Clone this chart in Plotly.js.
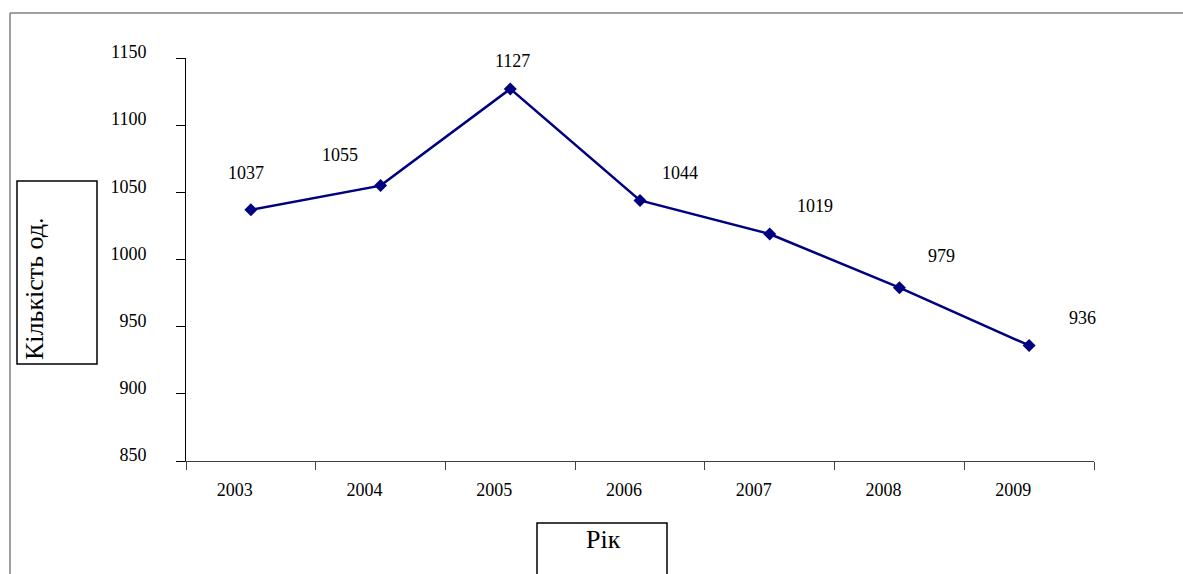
<!DOCTYPE html>
<html>
<head>
<meta charset="utf-8">
<script src="https://cdn.plot.ly/plotly-3.0.1.min.js"></script>
<style>
html,body{margin:0;padding:0;background:#fff;}
#chart{width:1183px;height:574px;}
</style>
</head>
<body>
<div id="chart"></div>
<script>
// ---- data ----
const years = ["2003", "2004", "2005", "2006", "2007", "2008", "2009"];
const counts = [1037, 1055, 1127, 1044, 1019, 979, 936];
const yTickValues = [850, 900, 950, 1000, 1050, 1100, 1150];
const yAxisTitle = "Кількість од.";
const xAxisTitle = "Рік";

// ---- label placement (style, px offsets from each point) ----
const labelDx = [-5, -41, 2, 40, 45, 42, 53];
const labelDy = [37, 31, 28, 27, 28, 32, 27];

// ---- layout geometry ----
const W = 1183, H = 574;
const M = {l: 186, r: 89, t: 58, b: 113};
const PW = W - M.l - M.r, PH = H - M.t - M.b;
const px = v => (v - M.l) / PW;
const py = v => (H - M.b - v) / PH;

const font = "Liberation Serif, Times New Roman, serif";

const trace = {
  type: "scatter",
  mode: "lines+markers",
  x: years,
  y: counts,
  line: {color: "#000080", width: 2.5},
  marker: {symbol: "diamond", size: 10, color: "#000080"},
  cliponaxis: false,
  hoverinfo: "x+y"
};

// category axis: annotations placed by category index
const annotations = years.map((yr, i) => ({
  x: i, y: counts[i], xref: "x", yref: "y",
  text: String(counts[i]), showarrow: false,
  xanchor: "center", yanchor: "middle",
  xshift: labelDx[i], yshift: labelDy[i],
  font: {family: font, size: 18, color: "#000"}
}));

annotations.push({
  xref: "paper", yref: "paper", x: px(34), y: py(289),
  xanchor: "center", yanchor: "middle",
  text: yAxisTitle, textangle: -90, showarrow: false,
  font: {family: font, size: 26, color: "#000"}
});
annotations.push({
  xref: "paper", yref: "paper", x: px(603), y: py(539),
  xanchor: "center", yanchor: "middle",
  text: xAxisTitle, showarrow: false,
  font: {family: font, size: 26, color: "#000"}
});

const shapes = [
  // outer frame (top and left edges visible)
  {type: "line", xref: "paper", yref: "paper", x0: px(10), x1: px(W + 5), y0: py(13), y1: py(13),
   line: {color: "#808080", width: 1.5}},
  {type: "line", xref: "paper", yref: "paper", x0: px(10), x1: px(10), y0: py(13), y1: py(H + 5),
   line: {color: "#808080", width: 1.5}},
  // y title box
  {type: "rect", xref: "paper", yref: "paper", x0: px(17), x1: px(97), y0: py(364), y1: py(181),
   line: {color: "#000", width: 1.5}},
  // x title box
  {type: "rect", xref: "paper", yref: "paper", x0: px(537), x1: px(667), y0: py(H + 10), y1: py(523),
   line: {color: "#000", width: 1.5}}
];

const layout = {
  width: W, height: H,
  margin: M,
  paper_bgcolor: "#fff", plot_bgcolor: "#fff",
  showlegend: false,
  font: {family: font, size: 18, color: "#000"},
  xaxis: {
    type: "category", range: [-0.5, 6.5],
    showline: true, linecolor: "#404040", linewidth: 1,
    ticks: "outside", tickson: "boundaries", ticklen: 8, tickcolor: "#404040",
    showgrid: false, zeroline: false,
    tickfont: {family: font, size: 18, color: "#000"},
    ticklabelstandoff: 12, ticklabelshift: -16,
    fixedrange: true
  },
  yaxis: {
    range: [850, 1150], tickvals: yTickValues,
    showline: true, linecolor: "#000", linewidth: 1,
    ticks: "outside", ticklen: 9, tickcolor: "#000",
    showgrid: false, zeroline: false,
    tickfont: {family: font, size: 18, color: "#000"},
    ticklabelstandoff: 26, ticklabelshift: -6,
    fixedrange: true
  },
  annotations: annotations,
  shapes: shapes
};

Plotly.newPlot("chart", [trace], layout, {displayModeBar: false, staticPlot: true});
</script>
</body>
</html>
